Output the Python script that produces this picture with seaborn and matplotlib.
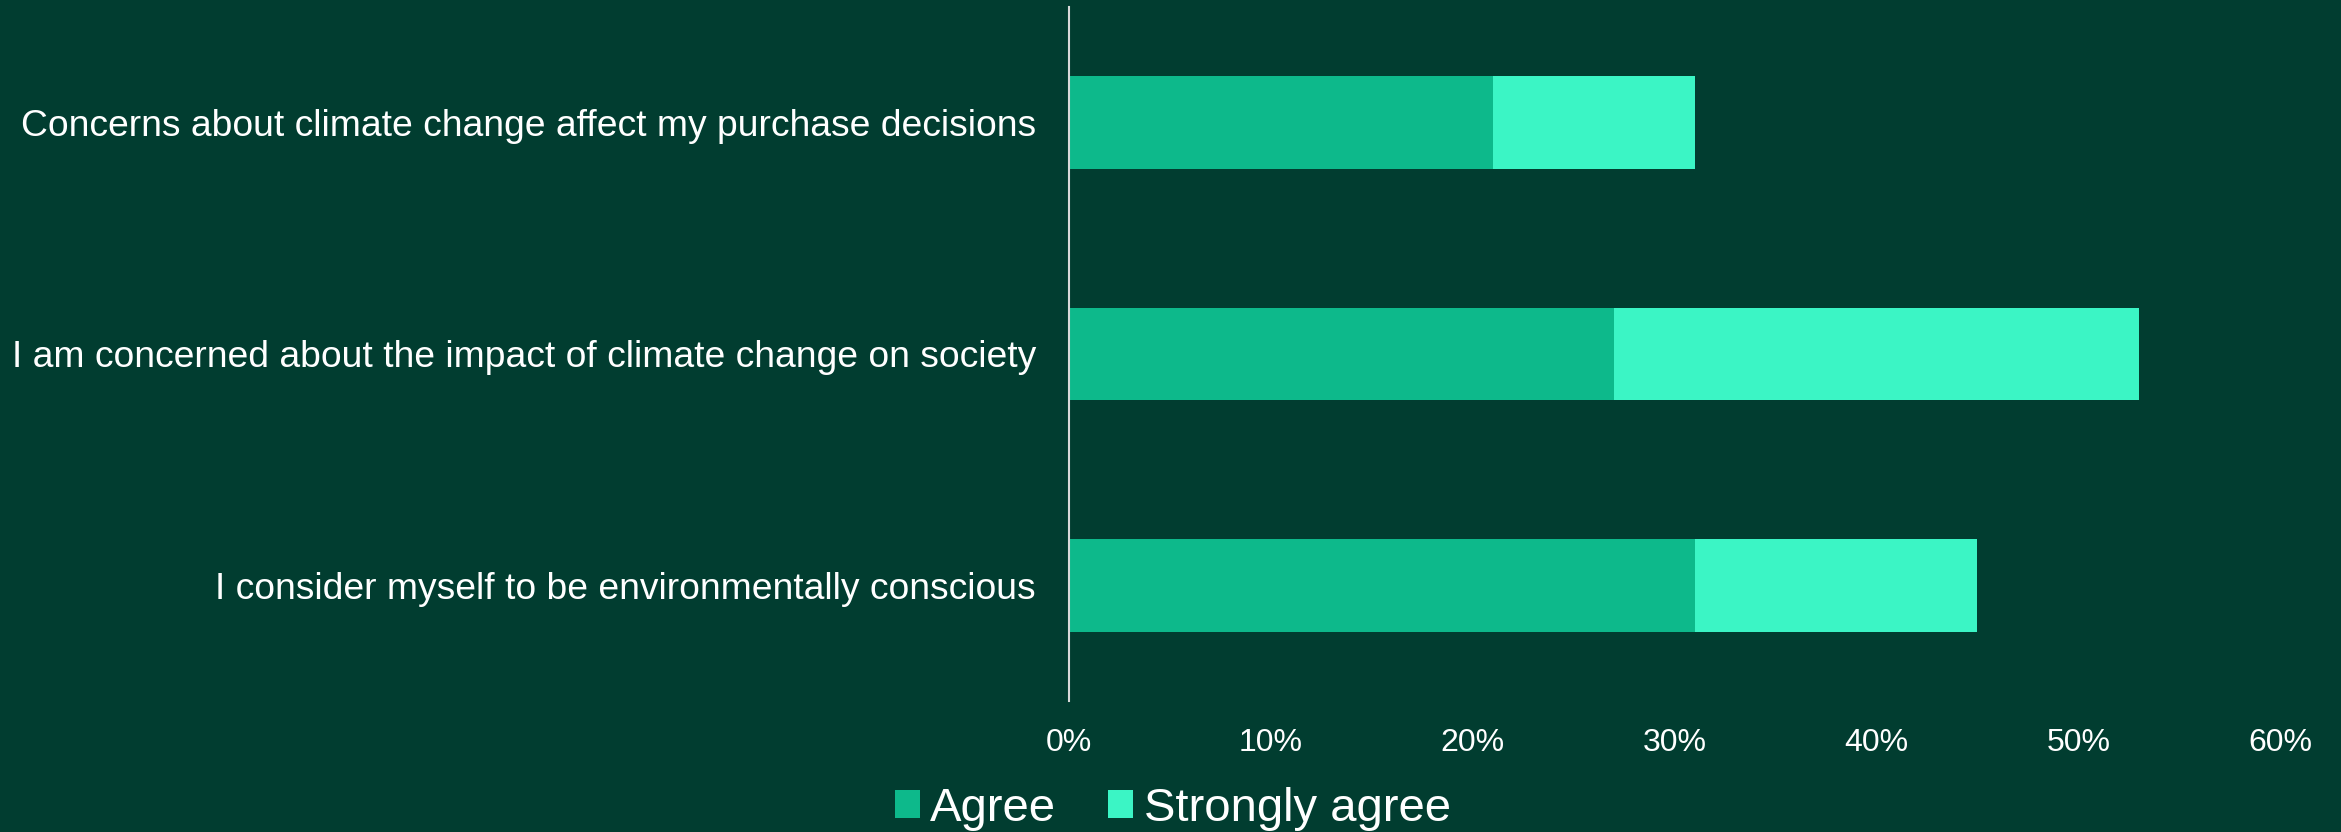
import matplotlib
matplotlib.use("Agg")
import matplotlib.pyplot as plt
from matplotlib.patches import Patch
from matplotlib.ticker import FuncFormatter
import seaborn as sns
import pandas as pd

# Survey statements and share of respondents (fraction)
statements = [
    "Concerns about climate change affect my purchase decisions",
    "I am concerned about the impact of climate change on society",
    "I consider myself to be environmentally conscious",
]
agree = [0.21, 0.27, 0.31]
strongly_agree = [0.10, 0.26, 0.14]
series_names = ["Agree", "Strongly agree"]
x_ticks = [0.0, 0.1, 0.2, 0.3, 0.4, 0.5, 0.6]

BG = "#013D30"
C_AGREE = "#0DB98B"
C_STRONG = "#3BF5C5"

sns.set_theme(style="white")
plt.rcParams["font.family"] = ["Liberation Sans", "DejaVu Sans"]

df = pd.DataFrame({
    "statement": statements,
    "agree": agree,
    "total": [a + s for a, s in zip(agree, strongly_agree)],
})

fig = plt.figure(figsize=(23.41, 8.32), dpi=100, facecolor=BG)
ax = fig.add_axes([0.4567, 0.1575, 0.5173, 0.8341], facecolor=BG)

# Stacked bars: full total underneath, "Agree" segment drawn on top
sns.barplot(data=df, y="statement", x="total", color=C_STRONG, width=0.4,
            saturation=1, linewidth=0, ax=ax, orient="h")
sns.barplot(data=df, y="statement", x="agree", color=C_AGREE, width=0.4,
            saturation=1, linewidth=0, ax=ax, orient="h")

ax.set_xlim(0, 0.6)
ax.set_xticks(x_ticks)
ax.xaxis.set_major_formatter(FuncFormatter(lambda v, _: f"{v:.0%}"))
ax.set_xlabel("")
ax.set_ylabel("")

for side in ["top", "right", "bottom"]:
    ax.spines[side].set_visible(False)
ax.spines["left"].set_color("#D9D9D9")
ax.spines["left"].set_linewidth(1.5)

ax.tick_params(axis="x", length=0, pad=19.5, labelsize=23, labelcolor="white")
ax.tick_params(axis="y", length=0, pad=24, labelsize=26.8, labelcolor="white")

handles = [Patch(facecolor=C_AGREE, edgecolor="none"),
           Patch(facecolor=C_STRONG, edgecolor="none")]
leg = fig.legend(handles, series_names, loc="center",
                 bbox_to_anchor=(0.501, 0.028), ncol=2, frameon=False,
                 fontsize=34, labelcolor="white",
                 handlelength=0.53, handleheight=0.53, handletextpad=0.22,
                 columnspacing=1.1)

fig.savefig("out.png", dpi=100, facecolor=BG)
